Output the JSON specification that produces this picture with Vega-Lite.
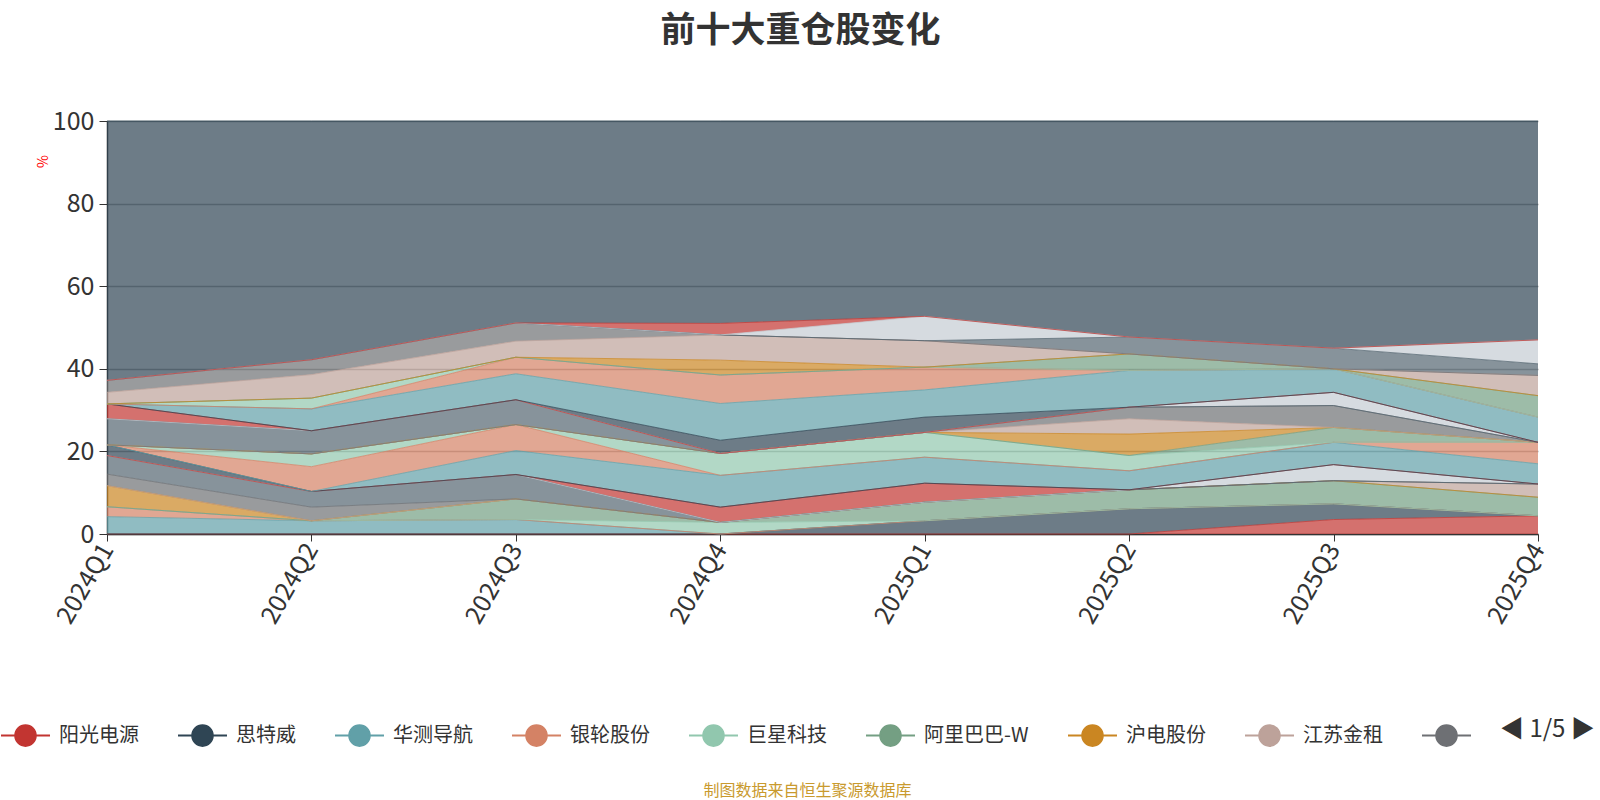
{
"$schema": "https://vega.github.io/schema/vega-lite/v6.json",
"width": 1431, "height": 413,
"autosize": {"type": "none"},
"padding": {"left": 107, "top": 121, "right": 62, "bottom": 266},
"background": "white",
"config": {"view": {"stroke": null}, "font": "Noto Sans CJK SC"},
"title": {"text": "前十大重仓股变化", "fontSize": 35, "font": "Noto Sans CJK SC", "fontWeight": "bold", "color": "#333333", "anchor": "middle", "offset": 60, "dx": -22},
"datasets": {"rows": [
{"s":"阳光电源","i":0,"q":"2024Q1","v":0},{"s":"阳光电源","i":0,"q":"2024Q2","v":0},{"s":"阳光电源","i":0,"q":"2024Q3","v":0},{"s":"阳光电源","i":0,"q":"2024Q4","v":0},{"s":"阳光电源","i":0,"q":"2025Q1","v":0},{"s":"阳光电源","i":0,"q":"2025Q2","v":0},{"s":"阳光电源","i":0,"q":"2025Q3","v":3.5},{"s":"阳光电源","i":0,"q":"2025Q4","v":4.4},
{"s":"思特威","i":1,"q":"2024Q1","v":0},{"s":"思特威","i":1,"q":"2024Q2","v":0},{"s":"思特威","i":1,"q":"2024Q3","v":0},{"s":"思特威","i":1,"q":"2024Q4","v":0},{"s":"思特威","i":1,"q":"2025Q1","v":3.2},{"s":"思特威","i":1,"q":"2025Q2","v":6.1},{"s":"思特威","i":1,"q":"2025Q3","v":3.8},{"s":"思特威","i":1,"q":"2025Q4","v":0},
{"s":"华测导航","i":2,"q":"2024Q1","v":4.2},{"s":"华测导航","i":2,"q":"2024Q2","v":3.2},{"s":"华测导航","i":2,"q":"2024Q3","v":3.5},{"s":"华测导航","i":2,"q":"2024Q4","v":0},{"s":"华测导航","i":2,"q":"2025Q1","v":0},{"s":"华测导航","i":2,"q":"2025Q2","v":0},{"s":"华测导航","i":2,"q":"2025Q3","v":0},{"s":"华测导航","i":2,"q":"2025Q4","v":0},
{"s":"银轮股份","i":3,"q":"2024Q1","v":2.4},{"s":"银轮股份","i":3,"q":"2024Q2","v":0},{"s":"银轮股份","i":3,"q":"2024Q3","v":0},{"s":"银轮股份","i":3,"q":"2024Q4","v":0},{"s":"银轮股份","i":3,"q":"2025Q1","v":0},{"s":"银轮股份","i":3,"q":"2025Q2","v":0},{"s":"银轮股份","i":3,"q":"2025Q3","v":0},{"s":"银轮股份","i":3,"q":"2025Q4","v":0},
{"s":"巨星科技","i":4,"q":"2024Q1","v":0},{"s":"巨星科技","i":4,"q":"2024Q2","v":0},{"s":"巨星科技","i":4,"q":"2024Q3","v":0},{"s":"巨星科技","i":4,"q":"2024Q4","v":2.8},{"s":"巨星科技","i":4,"q":"2025Q1","v":0},{"s":"巨星科技","i":4,"q":"2025Q2","v":0},{"s":"巨星科技","i":4,"q":"2025Q3","v":0},{"s":"巨星科技","i":4,"q":"2025Q4","v":0},
{"s":"阿里巴巴-W","i":5,"q":"2024Q1","v":0},{"s":"阿里巴巴-W","i":5,"q":"2024Q2","v":0},{"s":"阿里巴巴-W","i":5,"q":"2024Q3","v":5.0},{"s":"阿里巴巴-W","i":5,"q":"2024Q4","v":0},{"s":"阿里巴巴-W","i":5,"q":"2025Q1","v":4.5},{"s":"阿里巴巴-W","i":5,"q":"2025Q2","v":4.6},{"s":"阿里巴巴-W","i":5,"q":"2025Q3","v":5.6},{"s":"阿里巴巴-W","i":5,"q":"2025Q4","v":4.5},
{"s":"沪电股份","i":6,"q":"2024Q1","v":5.1},{"s":"沪电股份","i":6,"q":"2024Q2","v":0},{"s":"沪电股份","i":6,"q":"2024Q3","v":0},{"s":"沪电股份","i":6,"q":"2024Q4","v":0},{"s":"沪电股份","i":6,"q":"2025Q1","v":0},{"s":"沪电股份","i":6,"q":"2025Q2","v":0},{"s":"沪电股份","i":6,"q":"2025Q3","v":0},{"s":"沪电股份","i":6,"q":"2025Q4","v":0},
{"s":"江苏金租","i":7,"q":"2024Q1","v":0},{"s":"江苏金租","i":7,"q":"2024Q2","v":0},{"s":"江苏金租","i":7,"q":"2024Q3","v":0},{"s":"江苏金租","i":7,"q":"2024Q4","v":0},{"s":"江苏金租","i":7,"q":"2025Q1","v":0},{"s":"江苏金租","i":7,"q":"2025Q2","v":0},{"s":"江苏金租","i":7,"q":"2025Q3","v":0},{"s":"江苏金租","i":7,"q":"2025Q4","v":3.2},
{"s":"股票09","i":8,"q":"2024Q1","v":2.8},{"s":"股票09","i":8,"q":"2024Q2","v":3.3},{"s":"股票09","i":8,"q":"2024Q3","v":0},{"s":"股票09","i":8,"q":"2024Q4","v":0},{"s":"股票09","i":8,"q":"2025Q1","v":0},{"s":"股票09","i":8,"q":"2025Q2","v":0},{"s":"股票09","i":8,"q":"2025Q3","v":0},{"s":"股票09","i":8,"q":"2025Q4","v":0},
{"s":"股票10","i":9,"q":"2024Q1","v":4.5},{"s":"股票10","i":9,"q":"2024Q2","v":3.8},{"s":"股票10","i":9,"q":"2024Q3","v":5.9},{"s":"股票10","i":9,"q":"2024Q4","v":0},{"s":"股票10","i":9,"q":"2025Q1","v":0},{"s":"股票10","i":9,"q":"2025Q2","v":0},{"s":"股票10","i":9,"q":"2025Q3","v":0},{"s":"股票10","i":9,"q":"2025Q4","v":0},
{"s":"股票11","i":10,"q":"2024Q1","v":0},{"s":"股票11","i":10,"q":"2024Q2","v":0},{"s":"股票11","i":10,"q":"2024Q3","v":0},{"s":"股票11","i":10,"q":"2024Q4","v":0},{"s":"股票11","i":10,"q":"2025Q1","v":0},{"s":"股票11","i":10,"q":"2025Q2","v":0},{"s":"股票11","i":10,"q":"2025Q3","v":3.9},{"s":"股票11","i":10,"q":"2025Q4","v":0},
{"s":"股票12","i":11,"q":"2024Q1","v":0},{"s":"股票12","i":11,"q":"2024Q2","v":0},{"s":"股票12","i":11,"q":"2024Q3","v":0},{"s":"股票12","i":11,"q":"2024Q4","v":3.7},{"s":"股票12","i":11,"q":"2025Q1","v":4.6},{"s":"股票12","i":11,"q":"2025Q2","v":0},{"s":"股票12","i":11,"q":"2025Q3","v":0},{"s":"股票12","i":11,"q":"2025Q4","v":0},
{"s":"股票13","i":12,"q":"2024Q1","v":2.6},{"s":"股票13","i":12,"q":"2024Q2","v":0},{"s":"股票13","i":12,"q":"2024Q3","v":0},{"s":"股票13","i":12,"q":"2024Q4","v":0},{"s":"股票13","i":12,"q":"2025Q1","v":0},{"s":"股票13","i":12,"q":"2025Q2","v":0},{"s":"股票13","i":12,"q":"2025Q3","v":0},{"s":"股票13","i":12,"q":"2025Q4","v":0},
{"s":"股票14","i":13,"q":"2024Q1","v":0},{"s":"股票14","i":13,"q":"2024Q2","v":0},{"s":"股票14","i":13,"q":"2024Q3","v":5.8},{"s":"股票14","i":13,"q":"2024Q4","v":7.7},{"s":"股票14","i":13,"q":"2025Q1","v":6.3},{"s":"股票14","i":13,"q":"2025Q2","v":4.6},{"s":"股票14","i":13,"q":"2025Q3","v":5.4},{"s":"股票14","i":13,"q":"2025Q4","v":4.9},
{"s":"股票15","i":14,"q":"2024Q1","v":0},{"s":"股票15","i":14,"q":"2024Q2","v":6.0},{"s":"股票15","i":14,"q":"2024Q3","v":6.3},{"s":"股票15","i":14,"q":"2024Q4","v":0},{"s":"股票15","i":14,"q":"2025Q1","v":0},{"s":"股票15","i":14,"q":"2025Q2","v":0},{"s":"股票15","i":14,"q":"2025Q3","v":0},{"s":"股票15","i":14,"q":"2025Q4","v":5.2},
{"s":"股票16","i":15,"q":"2024Q1","v":0},{"s":"股票16","i":15,"q":"2024Q2","v":3.1},{"s":"股票16","i":15,"q":"2024Q3","v":0},{"s":"股票16","i":15,"q":"2024Q4","v":5.3},{"s":"股票16","i":15,"q":"2025Q1","v":6.0},{"s":"股票16","i":15,"q":"2025Q2","v":3.7},{"s":"股票16","i":15,"q":"2025Q3","v":0},{"s":"股票16","i":15,"q":"2025Q4","v":0},
{"s":"股票17","i":16,"q":"2024Q1","v":0},{"s":"股票17","i":16,"q":"2024Q2","v":0},{"s":"股票17","i":16,"q":"2024Q3","v":0},{"s":"股票17","i":16,"q":"2024Q4","v":0},{"s":"股票17","i":16,"q":"2025Q1","v":0},{"s":"股票17","i":16,"q":"2025Q2","v":0},{"s":"股票17","i":16,"q":"2025Q3","v":3.6},{"s":"股票17","i":16,"q":"2025Q4","v":0},
{"s":"股票18","i":17,"q":"2024Q1","v":0},{"s":"股票18","i":17,"q":"2024Q2","v":0},{"s":"股票18","i":17,"q":"2024Q3","v":0},{"s":"股票18","i":17,"q":"2024Q4","v":0},{"s":"股票18","i":17,"q":"2025Q1","v":0},{"s":"股票18","i":17,"q":"2025Q2","v":5.2},{"s":"股票18","i":17,"q":"2025Q3","v":0},{"s":"股票18","i":17,"q":"2025Q4","v":0},
{"s":"股票19","i":18,"q":"2024Q1","v":0},{"s":"股票19","i":18,"q":"2024Q2","v":0},{"s":"股票19","i":18,"q":"2024Q3","v":0},{"s":"股票19","i":18,"q":"2024Q4","v":0},{"s":"股票19","i":18,"q":"2025Q1","v":0},{"s":"股票19","i":18,"q":"2025Q2","v":3.7},{"s":"股票19","i":18,"q":"2025Q3","v":0},{"s":"股票19","i":18,"q":"2025Q4","v":0},
{"s":"股票20","i":19,"q":"2024Q1","v":0},{"s":"股票20","i":19,"q":"2024Q2","v":0},{"s":"股票20","i":19,"q":"2024Q3","v":0},{"s":"股票20","i":19,"q":"2024Q4","v":0},{"s":"股票20","i":19,"q":"2025Q1","v":0},{"s":"股票20","i":19,"q":"2025Q2","v":2.8},{"s":"股票20","i":19,"q":"2025Q3","v":5.3},{"s":"股票20","i":19,"q":"2025Q4","v":0},
{"s":"股票21","i":20,"q":"2024Q1","v":6.3},{"s":"股票21","i":20,"q":"2024Q2","v":5.6},{"s":"股票21","i":20,"q":"2024Q3","v":6.0},{"s":"股票21","i":20,"q":"2024Q4","v":0},{"s":"股票21","i":20,"q":"2025Q1","v":0},{"s":"股票21","i":20,"q":"2025Q2","v":0},{"s":"股票21","i":20,"q":"2025Q3","v":0},{"s":"股票21","i":20,"q":"2025Q4","v":0},
{"s":"股票22","i":21,"q":"2024Q1","v":0},{"s":"股票22","i":21,"q":"2024Q2","v":0},{"s":"股票22","i":21,"q":"2024Q3","v":0},{"s":"股票22","i":21,"q":"2024Q4","v":0},{"s":"股票22","i":21,"q":"2025Q1","v":0},{"s":"股票22","i":21,"q":"2025Q2","v":0},{"s":"股票22","i":21,"q":"2025Q3","v":3.2},{"s":"股票22","i":21,"q":"2025Q4","v":0},
{"s":"股票23","i":22,"q":"2024Q1","v":3.6},{"s":"股票23","i":22,"q":"2024Q2","v":0},{"s":"股票23","i":22,"q":"2024Q3","v":0},{"s":"股票23","i":22,"q":"2024Q4","v":0},{"s":"股票23","i":22,"q":"2025Q1","v":0},{"s":"股票23","i":22,"q":"2025Q2","v":0},{"s":"股票23","i":22,"q":"2025Q3","v":0},{"s":"股票23","i":22,"q":"2025Q4","v":0},
{"s":"股票24","i":23,"q":"2024Q1","v":0},{"s":"股票24","i":23,"q":"2024Q2","v":0},{"s":"股票24","i":23,"q":"2024Q3","v":0},{"s":"股票24","i":23,"q":"2024Q4","v":3.2},{"s":"股票24","i":23,"q":"2025Q1","v":3.7},{"s":"股票24","i":23,"q":"2025Q2","v":0},{"s":"股票24","i":23,"q":"2025Q3","v":0},{"s":"股票24","i":23,"q":"2025Q4","v":0},
{"s":"股票25","i":24,"q":"2024Q1","v":0},{"s":"股票25","i":24,"q":"2024Q2","v":5.3},{"s":"股票25","i":24,"q":"2024Q3","v":6.3},{"s":"股票25","i":24,"q":"2024Q4","v":8.9},{"s":"股票25","i":24,"q":"2025Q1","v":6.6},{"s":"股票25","i":24,"q":"2025Q2","v":8.9},{"s":"股票25","i":24,"q":"2025Q3","v":5.7},{"s":"股票25","i":24,"q":"2025Q4","v":6.1},
{"s":"股票26","i":25,"q":"2024Q1","v":0},{"s":"股票26","i":25,"q":"2024Q2","v":0},{"s":"股票26","i":25,"q":"2024Q3","v":4.0},{"s":"股票26","i":25,"q":"2024Q4","v":6.9},{"s":"股票26","i":25,"q":"2025Q1","v":5.5},{"s":"股票26","i":25,"q":"2025Q2","v":0},{"s":"股票26","i":25,"q":"2025Q3","v":0},{"s":"股票26","i":25,"q":"2025Q4","v":0},
{"s":"股票27","i":26,"q":"2024Q1","v":0},{"s":"股票27","i":26,"q":"2024Q2","v":2.6},{"s":"股票27","i":26,"q":"2024Q3","v":0},{"s":"股票27","i":26,"q":"2024Q4","v":0},{"s":"股票27","i":26,"q":"2025Q1","v":0},{"s":"股票27","i":26,"q":"2025Q2","v":0},{"s":"股票27","i":26,"q":"2025Q3","v":0},{"s":"股票27","i":26,"q":"2025Q4","v":0},
{"s":"股票28","i":27,"q":"2024Q1","v":0},{"s":"股票28","i":27,"q":"2024Q2","v":0},{"s":"股票28","i":27,"q":"2024Q3","v":0},{"s":"股票28","i":27,"q":"2024Q4","v":0},{"s":"股票28","i":27,"q":"2025Q1","v":0},{"s":"股票28","i":27,"q":"2025Q2","v":4.0},{"s":"股票28","i":27,"q":"2025Q3","v":0},{"s":"股票28","i":27,"q":"2025Q4","v":5.2},
{"s":"股票29","i":28,"q":"2024Q1","v":0},{"s":"股票29","i":28,"q":"2024Q2","v":0},{"s":"股票29","i":28,"q":"2024Q3","v":0},{"s":"股票29","i":28,"q":"2024Q4","v":3.6},{"s":"股票29","i":28,"q":"2025Q1","v":0},{"s":"股票29","i":28,"q":"2025Q2","v":0},{"s":"股票29","i":28,"q":"2025Q3","v":0},{"s":"股票29","i":28,"q":"2025Q4","v":0},
{"s":"股票30","i":29,"q":"2024Q1","v":2.8},{"s":"股票30","i":29,"q":"2024Q2","v":5.7},{"s":"股票30","i":29,"q":"2024Q3","v":3.9},{"s":"股票30","i":29,"q":"2024Q4","v":6.1},{"s":"股票30","i":29,"q":"2025Q1","v":6.4},{"s":"股票30","i":29,"q":"2025Q2","v":0},{"s":"股票30","i":29,"q":"2025Q3","v":0},{"s":"股票30","i":29,"q":"2025Q4","v":4.9},
{"s":"股票31","i":30,"q":"2024Q1","v":2.9},{"s":"股票31","i":30,"q":"2024Q2","v":3.6},{"s":"股票31","i":30,"q":"2024Q3","v":4.4},{"s":"股票31","i":30,"q":"2024Q4","v":0},{"s":"股票31","i":30,"q":"2025Q1","v":0},{"s":"股票31","i":30,"q":"2025Q2","v":0},{"s":"股票31","i":30,"q":"2025Q3","v":0},{"s":"股票31","i":30,"q":"2025Q4","v":0},
{"s":"股票32","i":31,"q":"2024Q1","v":0},{"s":"股票32","i":31,"q":"2024Q2","v":0},{"s":"股票32","i":31,"q":"2024Q3","v":0},{"s":"股票32","i":31,"q":"2024Q4","v":0},{"s":"股票32","i":31,"q":"2025Q1","v":0},{"s":"股票32","i":31,"q":"2025Q2","v":4.1},{"s":"股票32","i":31,"q":"2025Q3","v":5.0},{"s":"股票32","i":31,"q":"2025Q4","v":2.8},
{"s":"股票33","i":32,"q":"2024Q1","v":0},{"s":"股票33","i":32,"q":"2024Q2","v":0},{"s":"股票33","i":32,"q":"2024Q3","v":0},{"s":"股票33","i":32,"q":"2024Q4","v":0},{"s":"股票33","i":32,"q":"2025Q1","v":5.9},{"s":"股票33","i":32,"q":"2025Q2","v":0},{"s":"股票33","i":32,"q":"2025Q3","v":0},{"s":"股票33","i":32,"q":"2025Q4","v":5.8},
{"s":"股票34","i":33,"q":"2024Q1","v":0},{"s":"股票34","i":33,"q":"2024Q2","v":0},{"s":"股票34","i":33,"q":"2024Q3","v":0},{"s":"股票34","i":33,"q":"2024Q4","v":2.8},{"s":"股票34","i":33,"q":"2025Q1","v":0},{"s":"股票34","i":33,"q":"2025Q2","v":0},{"s":"股票34","i":33,"q":"2025Q3","v":0},{"s":"股票34","i":33,"q":"2025Q4","v":0},
{"s":"其他","i":34,"q":"2024Q1","v":62.8},{"s":"其他","i":34,"q":"2024Q2","v":57.8},{"s":"其他","i":34,"q":"2024Q3","v":48.9},{"s":"其他","i":34,"q":"2024Q4","v":49.0},{"s":"其他","i":34,"q":"2025Q1","v":47.3},{"s":"其他","i":34,"q":"2025Q2","v":52.3},{"s":"其他","i":34,"q":"2025Q3","v":55.0},{"s":"其他","i":34,"q":"2025Q4","v":53.0}
]},
"data": {"name": "rows"},
"transform": [{"stack": "v", "groupby": ["q"], "sort": [{"field": "i", "order": "ascending"}], "as": ["y0", "y1"]}],
"encoding": {
  "x": {"field": "q", "type": "ordinal", "scale": {"type": "point", "padding": 0},
    "axis": {"labelAngle": -60, "labelFontSize": 25, "labelColor": "#333333", "labelFont": "Noto Sans CJK SC", "domainColor": "#333333", "domainWidth": 1.5, "tickColor": "#333333", "tickSize": 7, "labelPadding": 4,
      "title": "制图数据来自恒生聚源数据库", "titleColor": "#c99a2e", "titleFontSize": 16, "titleFontWeight": "normal", "titleFont": "Noto Sans CJK SC", "titleX": 700, "titleY": 256, "titleAlign": "center", "titleBaseline": "middle"}},
  "color": {"field": "s", "type": "nominal",
    "scale": {"domain": ["阳光电源","思特威","华测导航","银轮股份","巨星科技","阿里巴巴-W","沪电股份","江苏金租","股票09","股票10","股票11","股票12","股票13","股票14","股票15","股票16","股票17","股票18","股票19","股票20","股票21","股票22","股票23","股票24","股票25","股票26","股票27","股票28","股票29","股票30","股票31","股票32","股票33","股票34","其他"],
      "range": ["#c23531","#2f4554","#61a0a8","#d48265","#91c7ae","#749f83","#ca8622","#bda29a","#6e7074","#546570","#c4ccd3","#c23531","#2f4554","#61a0a8","#d48265","#91c7ae","#749f83","#ca8622","#bda29a","#6e7074","#546570","#c4ccd3","#c23531","#2f4554","#61a0a8","#d48265","#91c7ae","#749f83","#ca8622","#bda29a","#6e7074","#546570","#c4ccd3","#c23531","#2f4554"]},
    "legend": {"values": ["阳光电源","思特威","华测导航","银轮股份","巨星科技","阿里巴巴-W","沪电股份","江苏金租","股票09"],
      "orient": "none", "legendX": -107, "legendY": 589, "direction": "horizontal",
      "symbolType": "M-1,0L-0.42,0M0.42,0L1,0M0.42,0A0.42,0.42,0,1,1,-0.42,0A0.42,0.42,0,1,1,0.42,0Z",
      "symbolSize": 2400, "symbolStrokeWidth": 2, "symbolOpacity": 1,
      "labelFontSize": 20, "labelColor": "#333333", "labelFont": "Noto Sans CJK SC", "labelOffset": 8, "columnPadding": 35, "labelLimit": 300,
      "labelExpr": "datum.label == '股票09' ? '' : datum.label",
      "title": "◀ 1/5 ▶", "titleOrient": "right", "titleFontSize": 24, "titleFontWeight": "normal", "titleColor": "#333333", "titleFont": "Noto Sans CJK SC", "titlePadding": 20, "titleBaseline": "middle",
      "encode": {"symbols": {"update": {"fill": {"scale": "color", "field": "value"}, "stroke": {"scale": "color", "field": "value"}, "strokeWidth": {"value": 2}, "opacity": {"value": 1}, "fillOpacity": {"value": 1}, "strokeOpacity": {"value": 1}}}}}}
},
"layer": [
  {"mark": {"type": "area", "interpolate": "linear", "fillOpacity": 0.7},
   "encoding": {
     "y": {"field": "y1", "type": "quantitative", "scale": {"domain": [0, 100], "nice": false},
       "axis": {"values": [0, 20, 40, 60, 80, 100], "labelFontSize": 25, "labelColor": "#333333", "labelFont": "Noto Sans CJK SC", "domainColor": "#333333", "domainWidth": 1.5, "tickColor": "#333333", "tickSize": 8, "labelPadding": 5, "gridColor": "#aaaaaa", "gridWidth": 1.5,
         "title": "%", "titleColor": "red", "titleFontSize": 14, "titleFontWeight": "normal", "titleAngle": 270, "titleX": -64, "titleY": 40, "titleAlign": "center", "titleBaseline": "middle"}},
     "y2": {"field": "y0"}}},
  {"mark": {"type": "line", "interpolate": "linear", "strokeWidth": 1, "opacity": 0.75},
   "encoding": {
     "y": {"field": "y1", "type": "quantitative"}}}
]
}
